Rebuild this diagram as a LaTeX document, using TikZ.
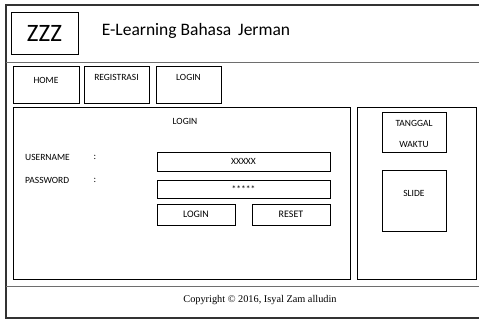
\documentclass[tikz,border=0pt]{standalone}
\usepackage{fontspec}
\setmainfont{Carlito}
\newfontfamily\copyfont{Liberation Serif}
\usetikzlibrary{positioning}

\begin{document}
\begin{tikzpicture}[
    x=1pt, y=-1pt,
    box/.style={
    	draw,
    	inner sep=0pt,
    	align=center,
    	anchor=center
    },
    field/.style={
        box,
        minimum width=173pt,
        font=\fontsize{9.5}{11}\selectfont
    },
    button/.style={
        box,
        line width=0.9pt,
        minimum width=78pt,
        minimum height=21pt,
        font=\fontsize{10}{11}\selectfont
    },
    txt/.style={
        align=center,
        anchor=center,
        inner sep=0pt,
        font=\fontsize{9.5}{11}\selectfont
    }]
    \definecolor{frame}{RGB}{50, 50, 50}
    \definecolor{rule}{RGB}{110, 110, 110}

    \useasboundingbox (0,0) rectangle (479,320);

    % frame and dividers
    \draw[frame, line width=1.2pt] (479,5) -- (6,5) -- (6,318) -- (479,318);
    \draw[rule, line width=0.8pt] (6,62) -- (479,62);
    \draw[rule, line width=0.8pt] (6,286) -- (479,286);

    % header
    \node[box, minimum width=67pt, minimum height=42pt, font=\fontsize{25}{27}\selectfont] (logo) at (44.5,33.5) {ZZZ};
    \node[txt, font=\fontsize{17.5}{19}\selectfont] (title) at (196,31) {E-Learning Bahasa\ \,Jerman};

    % menu
    \node[box, minimum width=66pt, minimum height=37pt] (home) at (46,84.5) {};
    \node[box, minimum width=65pt, minimum height=37pt] (regis) at (116.5,84.5) {};
    \node[box, minimum width=65pt, minimum height=37pt] (login) at (188.5,84.5) {};
    \node[txt] (homet) at (46,80) {HOME};
    \node[txt] (regist) at (116.5,77) {REGISTRASI};
    \node[txt] (logint) at (188.5,77) {LOGIN};

    % login form
    \node[box, minimum width=337pt, minimum height=172pt] (main) at (181.5,193) {};
    \node[txt] (formt) at (185,121) {LOGIN};
    \node[txt, anchor=west] (user) at (25,157) {USERNAME};
    \node[txt] (userc) at (95,157) {:};
    \node[txt, anchor=west] (pass) at (25,180) {PASSWORD};
    \node[txt] (passc) at (95,180) {:};
    \node[field, minimum height=19pt] (userf) at (243.5,161.5) {XXXXX};
    \node[field, minimum height=18pt] (passf) at (243.5,189) {*****};
    \node[button] (loginb) at (196,214.5) {LOGIN};
    \node[button] (resetb) at (291,214.5) {RESET};

    % side panel
    \node[box, minimum width=119pt, minimum height=172pt] (side) at (416.5,193) {};
    \node[box, minimum width=64pt, minimum height=40pt] (date) at (414,132) {};
    \node[txt] (datet) at (414,123) {TANGGAL};
    \node[txt] (timet) at (414,144) {WAKTU};
    \node[box, minimum width=64pt, minimum height=61pt] (slide) at (414,200.5) {};
    \node[txt] (slidet) at (414,193) {SLIDE};

    % footer
    \node[txt, font=\copyfont\fontsize{10.3}{12}\selectfont] (copy) at (260,300) {Copyright \textcopyright\ 2016, Isyal Zam alludin};
\end{tikzpicture}
\end{document}
